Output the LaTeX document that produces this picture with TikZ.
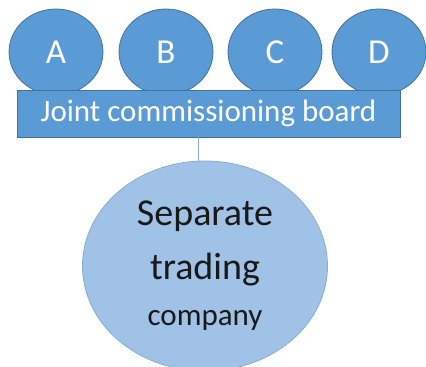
\documentclass[tikz,border=0pt]{standalone}
\usepackage{fontspec}
\setmainfont{Carlito}
\usetikzlibrary{shapes.geometric}

\definecolor{partner}{RGB}{91,155,213}
\definecolor{partnerline}{RGB}{65,113,156}
\definecolor{firmfill}{RGB}{160,194,230}
\definecolor{firmline}{RGB}{135,172,212}
\definecolor{linkline}{RGB}{140,172,205}

\tikzset{
  member/.style={ellipse, draw=partnerline, fill=partner, line width=0.8pt,
    minimum width=94pt, minimum height=86pt, inner sep=0pt, text=white,
    font=\fontsize{35}{40}\selectfont},
  boardbox/.style={rectangle, draw=partnerline, fill=partner, line width=0.8pt,
    minimum width=383pt, minimum height=47pt, inner sep=0pt, text=white,
    font=\fontsize{31}{36}\selectfont},
  tradingbox/.style={ellipse, draw=firmline, fill=firmfill, line width=0.8pt,
    minimum width=245pt, minimum height=210pt, inner sep=0pt,
    text={black!90}, align=center, font=\fontsize{38}{54}\selectfont}
}

\begin{document}
\begin{tikzpicture}[x=1pt,y=-1pt]
\useasboundingbox (0,0) rectangle (426,367);
% the four partners
\node[member] (A) at (56,52) {A};
\node[member] (B) at (166,52) {B};
\node[member] (C) at (275,52) {C};
\node[member] (D) at (379,52) {D};
% board sits over the bottom of the circles
\node[boardbox] (board) at (208.5,113.5) {Joint commissioning board};
% trading company below
\node[tradingbox] (firm) at (205,266) {Separate\\trading\\[-8pt]{\fontsize{31}{45}\selectfont company}};
\coordinate (link) at (198,137);
\draw[linkline, line width=0.8pt] (link) -- (link |- firm.north);
\end{tikzpicture}
\end{document}
